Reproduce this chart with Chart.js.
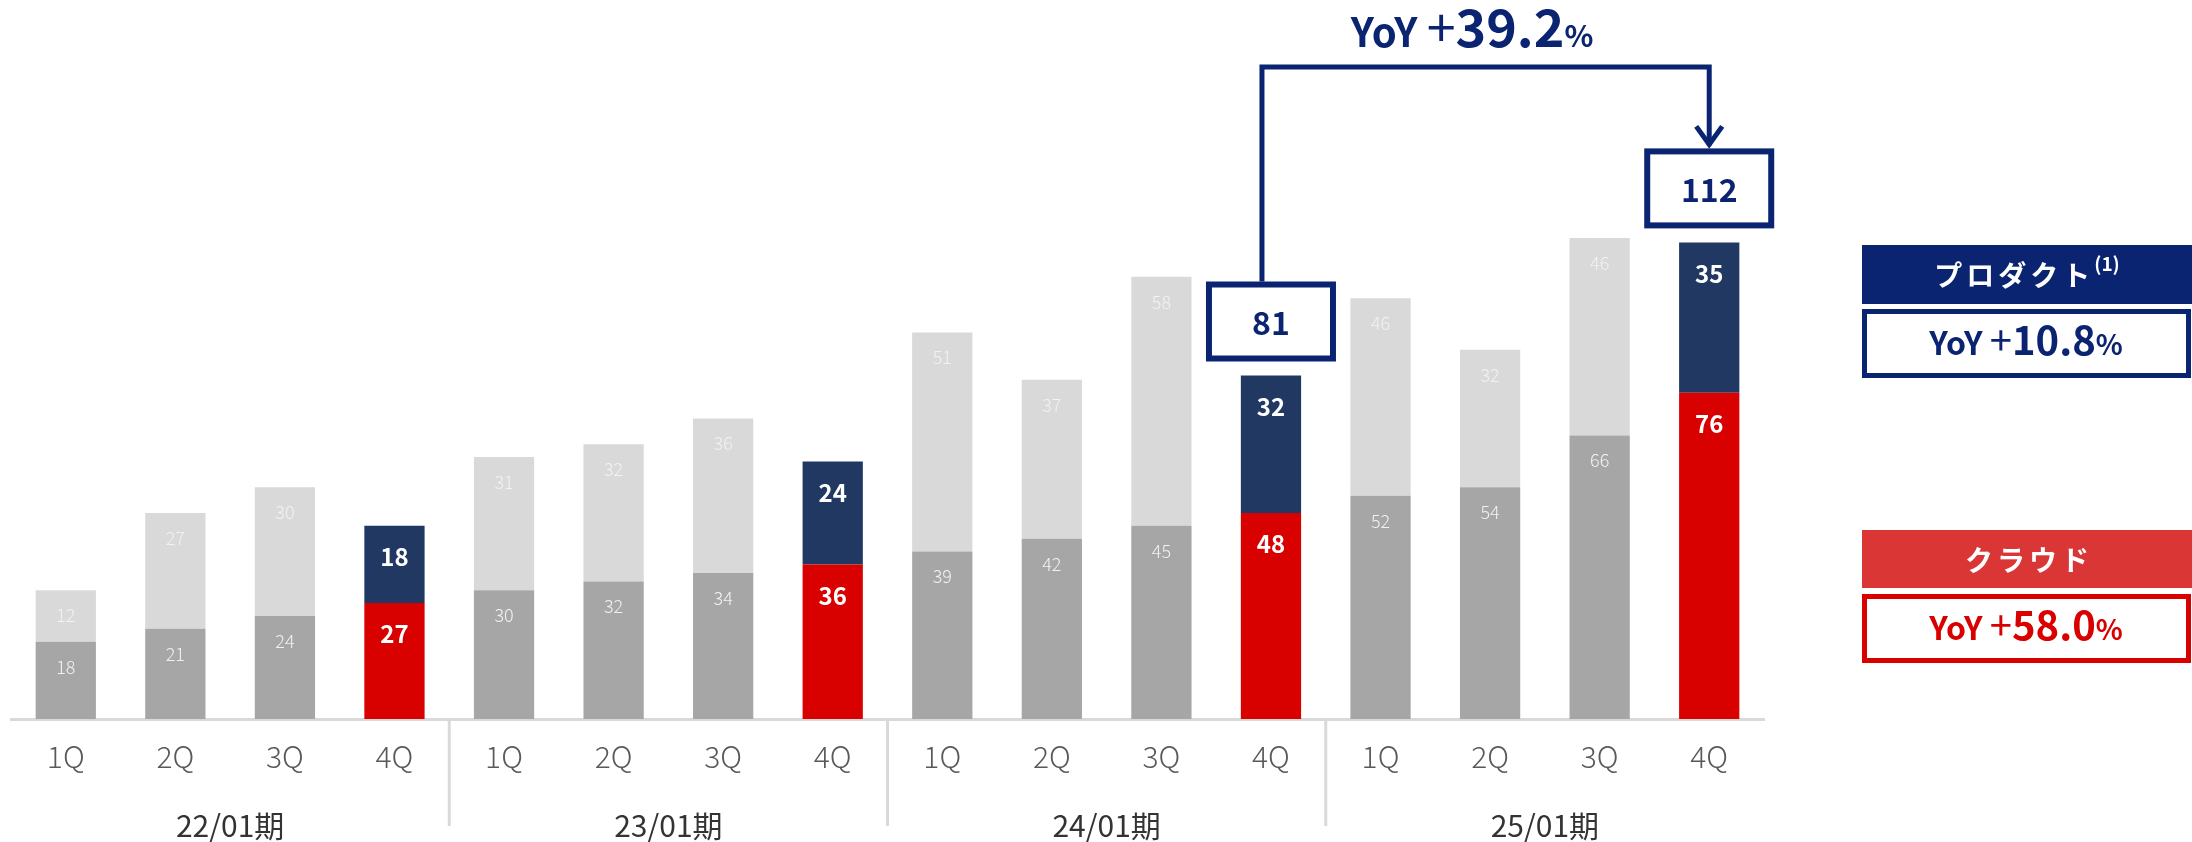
<html>
<head>
<script src="https://cdn.jsdelivr.net/npm/chart.js@4.4.0/dist/chart.umd.min.js"></script>
<style>
  body { margin: 0; background: #fff; }
  #wrap { position: relative; width: 2192px; height: 842px; }
</style>
</head>
<body>
<div id="wrap"><canvas id="myChart"></canvas></div>
<script>
// x axis: quarters, grouped by fiscal period
var quarters = ['1Q','2Q','3Q','4Q','1Q','2Q','3Q','4Q','1Q','2Q','3Q','4Q','1Q','2Q','3Q','4Q'];
var periods = ['22/01期','23/01期','24/01期','25/01期'];

// stacked values (bottom = クラウド, top = プロダクト)
var cloud = [18,21,24,27, 30,32,34,36, 39,42,45,48, 52,54,66,76];
var product = [12,27,30,18, 31,32,36,24, 51,37,58,32, 46,32,46,35];

// totals shown in boxes above the 24/01 and 25/01 4Q bars
var totalIdx = [11, 15];
var totalText = ['81', '112'];

// YoY growth labels
var yoyTotal = '39.2';
var yoyProduct = '10.8';
var yoyCloud = '58.0';

var JP = "'Noto Sans CJK JP', 'Noto Sans', sans-serif";
var NAVY = '#0b2471';

function isQ4(i) { return quarters[i] === '4Q'; }

var cloudColors = cloud.map(function (v, i) { return isQ4(i) ? '#d90000' : '#a6a6a6'; });
var productColors = product.map(function (v, i) { return isQ4(i) ? '#213863' : '#d9d9d9'; });

// "YoY +xx.x%" with mixed sizes, centred on cx
function drawYoY(ctx, cx, baseline, num, color, s) {
    var parts = [
        { t: 'YoY ', f: 'bold ' + s[0] + 'px ' + JP },
        { t: '+', f: '400 ' + s[1] + 'px ' + JP },
        { t: num, f: 'bold ' + s[1] + 'px ' + JP },
        { t: '%', f: 'bold ' + s[2] + 'px ' + JP }
    ];
    var total = 0;
    parts.forEach(function (p) { ctx.font = p.f; p.w = ctx.measureText(p.t).width; total += p.w; });
    var x = cx - total / 2;
    ctx.fillStyle = color;
    ctx.textAlign = 'left';
    ctx.textBaseline = 'alphabetic';
    parts.forEach(function (p) { ctx.font = p.f; ctx.fillText(p.t, x, baseline); x += p.w; });
}

var extras = {
    id: 'extras',
    afterDraw: function (chart) {
        var ctx = chart.ctx;
        var xs = chart.scales.x;
        var area = chart.chartArea;
        var mCloud = chart.getDatasetMeta(0);
        var mProd = chart.getDatasetMeta(1);
        ctx.save();

        // value labels inside the segments
        ctx.textAlign = 'center';
        ctx.textBaseline = 'middle';
        [mCloud, mProd].forEach(function (meta, d) {
            var vals = d === 0 ? cloud : product;
            meta.data.forEach(function (bar, i) {
                if (isQ4(i)) {
                    ctx.font = 'bold 24px ' + JP;
                    ctx.fillStyle = '#ffffff';
                    ctx.fillText(vals[i], bar.x, bar.y + 31);
                } else {
                    ctx.font = '300 18px ' + JP;
                    ctx.fillStyle = '#f2f2f2';
                    ctx.fillText(vals[i], bar.x, bar.y + 25);
                }
            });
        });

        // period dividers and period labels
        ctx.strokeStyle = '#d9d9d9';
        ctx.lineWidth = 3;
        for (var k = 1; k < periods.length; k++) {
            var dx = (xs.getPixelForValue(4 * k - 1) + xs.getPixelForValue(4 * k)) / 2;
            ctx.beginPath();
            ctx.moveTo(dx, area.bottom);
            ctx.lineTo(dx, 826);
            ctx.stroke();
        }
        ctx.font = '400 30px ' + JP;
        ctx.fillStyle = '#333333';
        periods.forEach(function (p, k) {
            var cx = (xs.getPixelForValue(4 * k + 1) + xs.getPixelForValue(4 * k + 2)) / 2;
            ctx.fillText(p, cx, 826);
        });

        // total boxes
        var boxes = totalIdx.map(function (i, n) {
            var bar = mProd.data[i];
            var w = 130, h = 80;
            var bottom = bar.y - 14;
            var top = bottom - h;
            ctx.strokeStyle = NAVY;
            ctx.lineWidth = 6;
            ctx.fillStyle = '#ffffff';
            ctx.fillRect(bar.x - w / 2, top, w, h);
            ctx.strokeRect(bar.x - w / 2 + 3, top + 3, w - 6, h - 6);
            ctx.font = 'bold 32px ' + JP;
            ctx.fillStyle = NAVY;
            ctx.textAlign = 'center';
            ctx.textBaseline = 'middle';
            ctx.fillText(totalText[n], bar.x, top + h / 2 + 1);
            return { x: bar.x, top: top };
        });

        // bracket with arrow
        var b1 = boxes[0], b2 = boxes[1];
        var lineY = 67;
        ctx.strokeStyle = NAVY;
        ctx.lineWidth = 5;
        ctx.lineJoin = 'miter';
        ctx.beginPath();
        ctx.moveTo(b1.x - 9, b1.top);
        ctx.lineTo(b1.x - 9, lineY);
        ctx.lineTo(b2.x, lineY);
        ctx.lineTo(b2.x, b2.top - 3);
        ctx.stroke();
        ctx.beginPath();
        ctx.moveTo(b2.x - 13, b2.top - 22);
        ctx.lineTo(b2.x, b2.top - 4);
        ctx.lineTo(b2.x + 13, b2.top - 22);
        ctx.stroke();
        drawYoY(ctx, (b1.x + b2.x) / 2 - 18, 47, yoyTotal, NAVY, [40, 52, 30]);

        // right-hand legend
        var lx = 1862, lw = 330;
        ctx.fillStyle = NAVY;
        ctx.fillRect(lx, 245, lw, 59);
        ctx.fillStyle = '#da3636';
        ctx.fillRect(lx, 530, lw, 58);

        ctx.textBaseline = 'middle';
        ctx.textAlign = 'left';
        ctx.fillStyle = '#ffffff';
        ctx.font = 'bold 28px ' + JP;
        ctx.letterSpacing = '4px';
        var w1 = ctx.measureText('プロダクト').width;
        ctx.letterSpacing = '0px';
        ctx.font = 'bold 19px ' + JP;
        var wSup = ctx.measureText('(1)').width;
        var sx = lx + lw / 2 - (w1 + wSup) / 2;
        ctx.font = 'bold 28px ' + JP;
        ctx.letterSpacing = '4px';
        ctx.fillText('プロダクト', sx, 275);
        ctx.letterSpacing = '0px';
        ctx.font = 'bold 19px ' + JP;
        ctx.fillText('(1)', sx + w1, 264);

        ctx.font = 'bold 28px ' + JP;
        ctx.letterSpacing = '4px';
        var w2 = ctx.measureText('クラウド').width;
        ctx.fillText('クラウド', lx + lw / 2 - w2 / 2 + 2, 560);
        ctx.letterSpacing = '0px';

        ctx.lineWidth = 5;
        ctx.strokeStyle = NAVY;
        ctx.strokeRect(lx + 2.5, 311.5, lw - 6, 64);
        drawYoY(ctx, 2026, 355, yoyProduct, NAVY, [32, 40, 28]);
        ctx.strokeStyle = '#d90000';
        ctx.strokeRect(lx + 2.5, 596.5, lw - 6, 64);
        drawYoY(ctx, 2026, 640, yoyCloud, '#d90000', [32, 40, 28]);

        ctx.restore();
    }
};

var ctx = document.getElementById('myChart').getContext('2d');
var chart = new Chart(ctx, {
    type: 'bar',
    data: {
        labels: quarters,
        datasets: [{
            label: 'クラウド',
            data: cloud,
            backgroundColor: cloudColors,
            barPercentage: 0.55,
            categoryPercentage: 1.0
        }, {
            label: 'プロダクト',
            data: product,
            backgroundColor: productColors,
            barPercentage: 0.55,
            categoryPercentage: 1.0
        }]
    },
    options: {
        responsive: true,
        maintainAspectRatio: false,
        devicePixelRatio: 1,
        animation: false,
        layout: { padding: { left: 11, right: 428, top: 32, bottom: 55 } },
        plugins: {
            legend: { display: false },
            tooltip: { enabled: false }
        },
        scales: {
            x: {
                stacked: true,
                grid: { display: false },
                border: { display: true, color: '#d9d9d9', width: 3 },
                ticks: {
                    color: '#595959',
                    font: { family: JP, size: 30, weight: '300' },
                    padding: 12,
                    maxRotation: 0,
                    autoSkip: false
                }
            },
            y: {
                stacked: true,
                display: false,
                min: 0,
                max: 160
            }
        }
    },
    plugins: [extras]
});
</script>
</body>
</html>
